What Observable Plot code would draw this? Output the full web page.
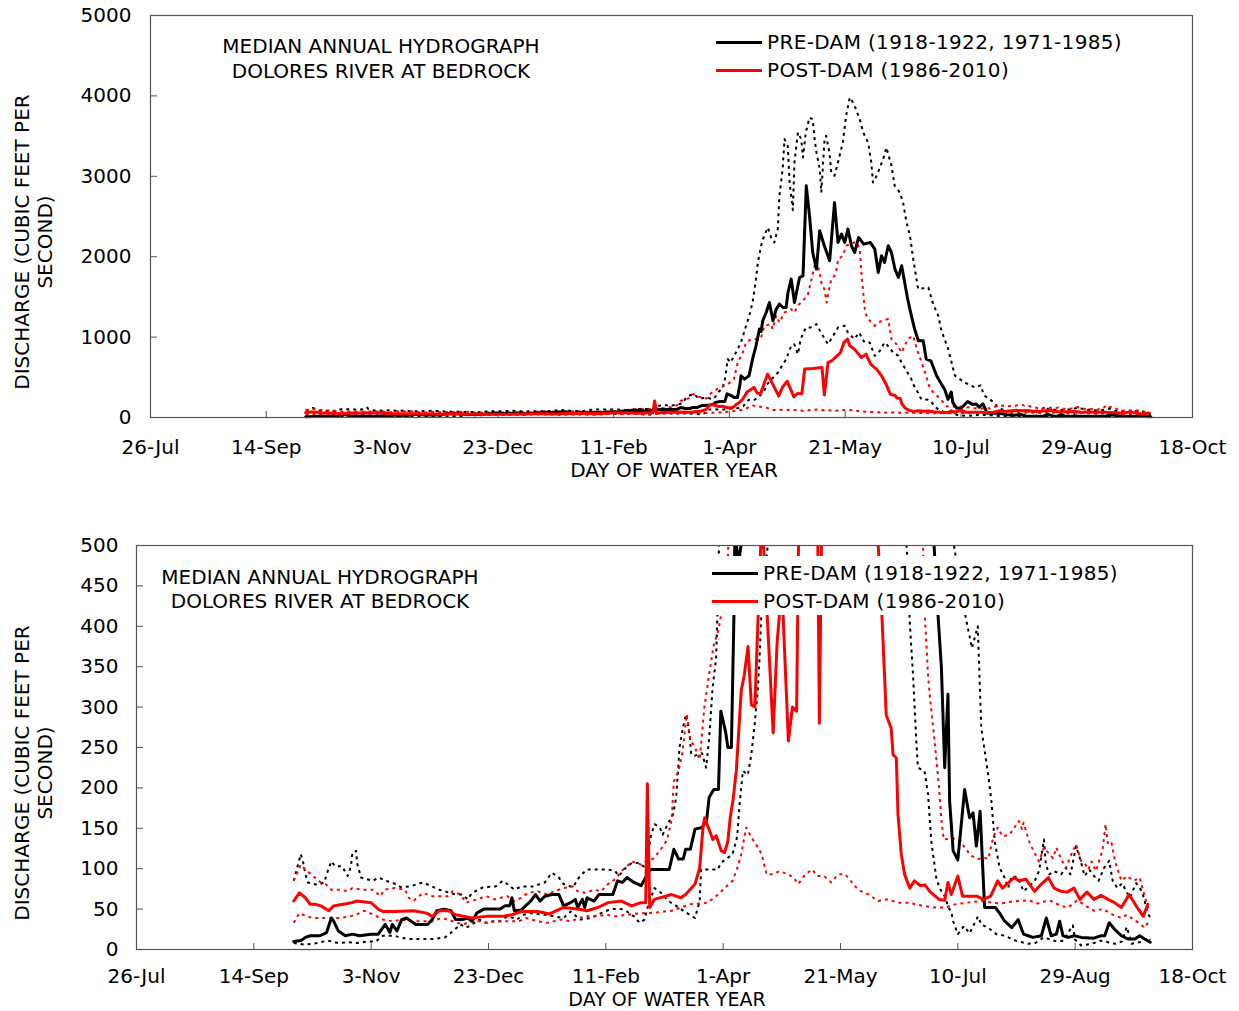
<!DOCTYPE html>
<html><head><meta charset="utf-8">
<script src="https://cdn.jsdelivr.net/npm/d3@7"></script>
<script src="https://cdn.jsdelivr.net/npm/@observablehq/plot@0.6"></script>
<style>
html,body{margin:0;padding:0;background:#fff;overflow:hidden;}
#wrap{position:relative;width:1239px;height:1011px;font-family:"DejaVu Sans",Verdana,sans-serif;color:#000;overflow:hidden;background:#fff}
.t{position:absolute;white-space:nowrap;font-size:20px;line-height:18px;transform:translate(-50%,-50%);}
.t.small{font-size:19px;line-height:17px;}
.yt{position:absolute;white-space:nowrap;font-size:20px;line-height:23px;text-align:center;transform:translate(-50%,-50%) rotate(-90deg);}
.leg{position:absolute;}
.row{position:absolute;display:flex;align-items:center;white-space:nowrap;font-size:20px;line-height:20px;letter-spacing:0.35px;transform:translateY(-50%);}
.sw{width:46px;height:3px;margin-right:5px;}
svg{position:absolute;left:0;}
</style></head><body><div id="wrap"></div>
<script>
// ---- x axis: days of water year (0 = 1-Oct) ----
const tickDays = [-67, -17, 33, 83, 133, 183, 233, 283, 333, 383];
const tickLabels = ["26-Jul","14-Sep","3-Nov","23-Dec","11-Feb","1-Apr","21-May","10-Jul","29-Aug","18-Oct"];
const yTicksTop = [0, 1000, 2000, 3000, 4000, 5000];
const yTicksBottom = [0, 50, 100, 150, 200, 250, 300, 350, 400, 450, 500];
const seriesNames = ["PRE-DAM (1918-1922, 1971-1985)", "POST-DAM (1986-2010)"];
const titleLines = ["MEDIAN ANNUAL HYDROGRAPH", "DOLORES RIVER AT BEDROCK"];

// ---- pre-dam median [day, cfs] ----
const preMed = [[0,10],[3,11],[5,15],[7,17],[11,17],[14,21],[16,39],[17,35],[19,23],[22,17],[25,19],[28,17],[33,19],[36,19],[38,27],[39,31],[41,21],[42,31],[44,23],[46,37],[48,39],[50,35],[52,31],[57,31],[59,37],[61,48],[64,50],[67,48],[69,37],[72,37],[74,39],[76,35],[78,45],[81,50],[88,50],[90,54],[92,54],[93,64],[94,48],[97,49],[101,60],[103,68],[105,60],[107,66],[110,68],[113,68],[115,54],[118,58],[120,62],[121,52],[123,62],[124,52],[125,64],[128,60],[130,68],[136,68],[138,85],[140,83],[142,89],[145,83],[148,79],[150,89],[152,99],[160,99],[162,124],[164,112],[166,112],[167,124],[169,124],[171,149],[174,151],[176,161],[177,188],[179,198],[181,198],[182,295],[184,270],[185,250],[186.5,250],[187.6,415],[188,519],[189.5,477],[191.5,519],[193,726],[194.5,892],[196,1099],[196.7,1070],[197.4,1203],[198.9,1306],[200.3,1430],[201.8,1203],[203.2,1347],[204.6,1410],[206.1,1368],[207.5,1368],[208.3,1555],[209.7,1721],[211.1,1430],[213.3,1741],[214.8,1762],[216.2,2882],[217.6,2509],[219,2052],[220.6,1846],[222,2322],[224,2136],[226.3,1949],[228.4,2674],[229.9,2177],[231.4,2281],[232.8,2177],[234.2,2343],[235.7,2136],[237.1,2052],[238.8,2239],[241,2156],[243.9,2177],[245.8,2094],[247.3,1804],[248.7,2011],[250,1928],[251.6,2136],[253,2052],[254.5,1846],[256,1741],[257.4,1887],[258.7,1679],[260,1472],[261.6,1264],[263,1099],[264.6,954],[266.7,954],[268,726],[270,705],[272.5,519],[274.6,412],[276,349],[277.4,225],[278.8,316],[279.5,184],[281,122],[283,111],[285.9,198],[288,163],[289.5,169],[290.9,128],[292.5,171],[294.4,52],[299,52],[300.8,45],[303,35],[306,27],[308.7,37],[311,19],[313,17],[315,15],[318.6,17],[320.7,39],[322.8,17],[325,19],[326.4,35],[327.8,17],[330,15],[332.7,17],[335.6,15],[341,14],[344,17],[345.6,17],[347.5,33],[349.8,25],[352.7,17],[355.5,13],[358.4,13],[360.5,17],[362.6,13],[365,9]];

// ---- pre-dam upper band ----
const preHi = [[0,85],[3,118],[4,108],[5,93],[6,83],[10,80],[13,83],[14.5,97],[16,109],[17.6,103],[20.6,103],[23,91],[24.4,103],[25,120],[26.6,122],[27,107],[28.7,89],[33.6,85],[36.4,89],[39,85],[42,83],[45.8,77],[49.6,78],[55,83],[59,78],[62,74],[69,68],[72,68],[74,62],[76,70],[80.6,77],[86,78],[89,85],[91.6,80],[94,74],[97,78],[102,78],[107,83],[110,95],[113,89],[115,81],[119,77],[122,91],[125,99],[134,99],[137,97],[138.5,91],[141.5,101],[144,107],[147,107],[150,101],[152.3,142],[153.8,155],[156,151],[157.2,142],[159.3,155],[161.6,167],[163,188],[164.4,250],[165.8,274],[167.2,291],[168.7,266],[169.4,241],[171,240],[174,243],[175.7,225],[177,260],[178.5,324],[180,361],[181,460],[182.3,726],[183.5,684],[186.6,850],[188,933],[190.2,1140],[191.6,1265],[193,1430],[194.5,1721],[195.3,1928],[196.7,2136],[198,2260],[199.6,2363],[201,2240],[202.4,2177],[203.9,2343],[204.6,2757],[206,3090],[206.8,3463],[208.2,3380],[209,2923],[210.4,2580],[211.1,3172],[212.6,3545],[214,3463],[214.8,3235],[216,3545],[217.6,3731],[219,3710],[219.8,3463],[220.6,3296],[222,3090],[222.7,2798],[224.1,3463],[224.8,3504],[226.2,3296],[227,3048],[228.4,3006],[229.9,3172],[232,3420],[233.4,3752],[235,3980],[236.8,3897],[239.3,3711],[240.8,3545],[242.9,3420],[244.3,3172],[245,2923],[246.6,3006],[249.4,3214],[250.8,3358],[253,3131],[254.4,2882],[256.6,2798],[258,2674],[259.5,2425],[261,2260],[262.4,1970],[264.5,1597],[268.9,1617],[271,1410],[273.2,1265],[274.6,1078],[277.5,850],[280.4,519],[284.7,435],[289,373],[291.5,400],[293,274],[295.9,217],[297.3,184],[298.7,134],[300.8,101],[302.9,89],[304.4,76],[306,91],[308.7,89],[311,72],[315.8,85],[317.6,97],[319.7,136],[320.5,105],[322,93],[324,97],[327,93],[329,101],[331,93],[333.4,128],[335.6,107],[337,91],[339,99],[341,91],[343,85],[345.3,101],[347.5,110],[349,85],[351,76],[353,82],[356.2,64],[359,82],[361.5,72],[364,44],[365,40]];

// ---- pre-dam lower band ----
const preLo = [[0,8],[5,6],[10,8],[14.5,11],[19,8],[23,9],[27,8],[31.6,10],[35,10],[38,17],[42,17],[46,15],[48,13],[52,13],[56,13],[60,13],[64.5,15],[68,23],[71,31],[73.5,27],[76,31],[79,37],[82,33],[85,35],[88,35],[91,41],[93.5,39],[95,37],[98,43],[101,45],[107,43],[111,41],[115,39],[118,47],[122,37],[126.6,39],[131,45],[135,50],[139.6,50],[142,47],[145,41],[147.4,33],[149.5,37],[150.8,52],[153.7,76],[156.6,70],[159.5,60],[162,56],[166.5,47],[171,39],[173,60],[173.6,99],[180.7,99],[182,107],[187,118],[189,140],[190,180],[191.4,221],[193.5,216],[195,241],[196.4,278],[197.8,324],[198.5,360],[199.2,410],[201,470],[204,560],[207.5,726],[209.7,892],[211,912],[212.6,788],[213.8,975],[216,1119],[218,1119],[220.6,1161],[222.5,1057],[225.6,912],[227.8,1016],[229.9,1119],[232.8,1140],[234.2,1057],[237,975],[239,1057],[241.4,933],[243.6,933],[245.8,767],[248,829],[250,933],[251.5,891],[253.7,808],[256,767],[257.3,684],[259.5,581],[261.6,477],[262.5,406],[263.9,340],[265.3,258],[266,225],[268.8,221],[270.3,192],[271.7,134],[273.8,89],[275.2,76],[277.4,66],[279,52],[280.2,47],[281,35],[283,19],[285.6,29],[288,20],[291.6,41],[293,31],[295.9,27],[299.4,19],[303,17],[307.6,11],[313,7],[316,8],[319.6,15],[325,10],[328,11],[332,30],[333,12],[335.6,5],[340,7],[344,11],[350,7],[353,10],[355,28],[357,7],[362,10],[364,15],[365,12]];

// ---- post-dam median ----
const postMed = [[0,60],[2.4,70],[5,64],[7,56],[9,56],[11.6,54],[15,48],[17,54],[21,56],[25,58],[26.6,60],[33,58],[36,50],[38,47],[43.5,47],[51,48],[56.6,45],[59,41],[62,48],[66,48],[69,43],[76,39],[82,41],[89,41],[93,43],[97,47],[104,47],[109,44],[115,52],[121,50],[125,48],[129.6,52],[134,58],[139.6,60],[144,54],[148,58],[150,58],[150.7,205],[151.7,52],[153.7,62],[161,68],[165,64],[167,68],[171,81],[173,101],[174.4,151],[175.1,163],[177.2,147],[178.6,136],[180,141],[182.2,122],[183.6,120],[185,134],[186,163],[187.2,185],[188.6,221],[190.7,320],[192,340],[193.6,375],[195,303],[196.5,300],[199.5,540],[202,400],[204.3,268],[206,380],[208,450],[210.8,258],[212.5,300],[214.3,295],[215.5,602],[219,610],[223,622],[224,280],[225.6,684],[227,700],[231,808],[232.5,933],[234,975],[235,892],[237,850],[240,746],[242,788],[244,664],[246.5,602],[248.7,519],[250.4,430],[252.5,290],[254.6,274],[255.4,241],[256.8,237],[257.5,167],[258.9,118],[260.3,93],[262.5,76],[264.5,85],[267,79],[269,80],[271,72],[275,62],[277.4,61],[278.8,83],[280.2,68],[283,91],[285,66],[288,66],[291,66],[294,62],[297,66],[300,85],[302,76],[307,89],[309,85],[312,87],[315.7,72],[318.6,81],[321.6,89],[324,76],[327,72],[329.6,71],[332.5,76],[335,62],[338,71],[341,62],[344,67],[347,62],[349.8,58],[352.7,52],[356,68],[359,54],[362,41],[364,56]];

// ---- post-dam upper band ----
const postHi = [[0,85],[2.4,101],[3,105],[5,99],[9,89],[11.6,83],[14,80],[16,74],[19.6,74],[23,72],[25,76],[29,74],[33.6,74],[37,66],[38.5,74],[43,76],[47.5,74],[49,64],[51,60],[55,70],[59,66],[65.6,66],[67.8,72],[71,68],[73.5,58],[78,62],[82,66],[85.6,62],[91,66],[94,60],[97,64],[99.8,70],[104,72],[108,68],[111,72],[115,76],[119,78],[121,72],[124.4,70],[128,74],[131,72],[134.6,83],[137,87],[139.6,97],[142,103],[144,109],[146,107],[148,105],[150,109],[153,112],[156,122],[159,135],[161,160],[162,208],[164,221],[165.5,241],[167.5,291],[169,260],[171,250],[173,235],[175,300],[177,340],[179,377],[181,395],[183,430],[185,477],[186.6,684],[188.8,808],[190.2,933],[192.4,975],[195.3,975],[196.7,995],[198.1,1140],[201,1161],[201.7,1099],[203.2,1265],[204.6,1182],[206.8,1306],[208.2,1326],[209.7,1347],[211.1,1306],[212.5,1389],[215.3,1472],[216.8,1514],[219.8,1887],[220.5,1949],[222,1804],[222.7,1679],[224,1597],[225,1430],[225.5,1514],[227,1721],[228.4,1762],[229.3,1846],[230,1970],[232,2011],[233.5,2136],[237,2177],[238.3,2177],[239.4,2052],[240,1804],[240.8,1555],[241.6,1306],[243,1224],[245.8,1140],[248.7,1203],[251.6,1224],[253,975],[255.2,912],[257.4,808],[260,975],[262.4,1016],[264,850],[266,684],[268,520],[269,410],[270.3,340],[271,315],[273.1,258],[275,200],[276,160],[277,136],[280.2,138],[284.5,134],[285,130],[288.6,116],[292,112],[294,114],[296,112],[298,138],[300,151],[302,140],[305,142],[309,159],[310.3,149],[311,157],[313.6,132],[315.6,120],[317.6,109],[319.7,126],[321.5,120],[323.5,113],[325,126],[327,112],[329,101],[332,122],[333.4,130],[335.6,109],[337,107],[338.6,99],[340,109],[341.8,97],[344.6,122],[346,155],[347,130],[348.5,132],[350,109],[352.7,85],[355,91],[358,85],[360.5,89],[362.6,66],[364,52],[365,55]];

// ---- post-dam lower band ----
const postLo = [[0,33],[2.4,45],[5.6,41],[8,39],[12,39],[16,39],[20,39],[24,41],[26.6,43],[30,48],[34,43],[38,37],[42,35],[46,37],[50,35],[55,35],[59,35],[63,39],[67.8,35],[72,31],[76,35],[79,35],[82,33],[86,35],[91,35],[96,35],[99,39],[104,35],[108,33],[114,37],[118,35],[124,41],[129,41],[133,43],[137,41],[142,43],[148,45],[150,45],[155,46],[161,48],[165,52],[169,56],[176.5,58],[180.8,68],[183.6,76],[187,85],[189,100],[190.7,118],[192.8,151],[195,139],[197,130],[199.4,118],[201.5,93],[204,93],[207,97],[210.7,93],[213,89],[215,81],[218,93],[221,99],[223,91],[226,91],[229,83],[232,93],[235,93],[240.5,74],[245,68],[249,60],[253,62],[257.5,58],[262,58],[268,54],[273.6,52],[277.6,52],[282,56],[287,58],[293,60],[298,58],[301,57],[305.5,59],[309,60],[313,61],[317,57],[322,61],[327,54],[330,52],[334,61],[337,55],[341,48],[345,50],[349,43],[352.7,39],[355,43],[358,37],[361,31],[362.6,27],[364,33]];

const RED = "#ff0000", BLACK = "#000000", FRAME = "#555555";
const FONT = '"DejaVu Sans", Verdana, sans-serif';

function panel({yMax, yTicks, top, height, mt, mb, ml, mr, pad, xpad, clip}) {
  const width = 1239;
  const fw = width - ml - mr, fh = height - mt - mb;
  const dotted = {strokeWidth: 2, strokeDasharray: "3,4", strokeLinecap: "butt", clip};
  const solid = {strokeWidth: 3, strokeLinejoin: "round", clip};
  const svg = Plot.plot({
    width, height, marginTop: mt, marginBottom: mb, marginLeft: ml, marginRight: mr,
    style: {fontFamily: FONT, fontSize: "20px", color: "#000", background: "transparent"},
    x: {domain: [-67, 383]},
    y: {domain: [0, yMax]},
    marks: [
      Plot.axisY({ticks: yTicks, tickSize: 0, tickPadding: pad, label: null, tickFormat: d => String(d), fill: "#000"}),
      Plot.axisX({ticks: tickDays, tickSize: 0, tickPadding: xpad, label: null, tickFormat: d => tickLabels[tickDays.indexOf(d)], fill: "#000"}),
      Plot.tickY(yTicks, {y: d => d, insetRight: fw - 7, stroke: FRAME}),
      Plot.tickX(tickDays, {x: d => d, insetTop: fh - 6, stroke: FRAME}),
      Plot.line(preHi, {x: d => d[0], y: d => d[1], stroke: BLACK, ...dotted}),
      Plot.line(preLo, {x: d => d[0], y: d => d[1], stroke: BLACK, ...dotted}),
      Plot.line(postHi, {x: d => d[0], y: d => d[1], stroke: RED, ...dotted}),
      Plot.line(postLo, {x: d => d[0], y: d => d[1], stroke: RED, ...dotted}),
      Plot.line(preMed, {x: d => d[0], y: d => d[1], stroke: BLACK, ...solid}),
      Plot.line(postMed, {x: d => d[0], y: d => d[1], stroke: RED, ...solid}),
      Plot.frame({stroke: FRAME, strokeWidth: 1.2})
    ]
  });
  svg.style.top = top + "px";
  return svg;
}

const wrap = document.getElementById("wrap");
wrap.appendChild(panel({yMax: 5000, yTicks: yTicksTop, top: 0, height: 490, mt: 15, mb: 73, ml: 150, mr: 47, pad: 19, xpad: 22, clip: false}));
wrap.appendChild(panel({yMax: 500, yTicks: yTicksBottom, top: 490, height: 521, mt: 55, mb: 62, ml: 136, mr: 47, pad: 18, xpad: 19, clip: true}));

function text(cls, html, x, y) {
  const d = document.createElement("div");
  d.className = cls; d.innerHTML = html;
  d.style.left = x + "px"; d.style.top = y + "px";
  wrap.appendChild(d);
  return d;
}
function legend(x, y1, y2, box) {
  if (box) {
    const b = document.createElement("div");
    b.className = "leg";
    Object.assign(b.style, {left: box[0] + "px", top: box[1] + "px", width: box[2] + "px", height: box[3] + "px", background: "#fff"});
    wrap.appendChild(b);
  }
  [[seriesNames[0], BLACK, y1], [seriesNames[1], RED, y2]].forEach(([name, col, y]) => {
    const r = document.createElement("div");
    r.className = "row";
    r.style.left = x + "px"; r.style.top = y + "px";
    r.innerHTML = `<span class="sw" style="background:${col}"></span><span>${name}</span>`;
    wrap.appendChild(r);
  });
}

// top panel annotations
text("t", titleLines[0], 381, 46);
text("t", titleLines[1], 381, 71);
legend(716, 42, 70, null);
text("yt", "DISCHARGE (CUBIC FEET PER<br>SECOND)", 34, 242);
text("t", "DAY OF WATER YEAR", 674, 470);

// bottom panel annotations
legend(712, 573, 601, [708, 556, 412, 59]);
text("t", titleLines[0], 320, 577);
text("t", titleLines[1], 320, 601);
text("yt", "DISCHARGE (CUBIC FEET PER<br>SECOND)", 34, 773);
text("t small", "DAY OF WATER YEAR", 667, 999);
</script></body></html>
